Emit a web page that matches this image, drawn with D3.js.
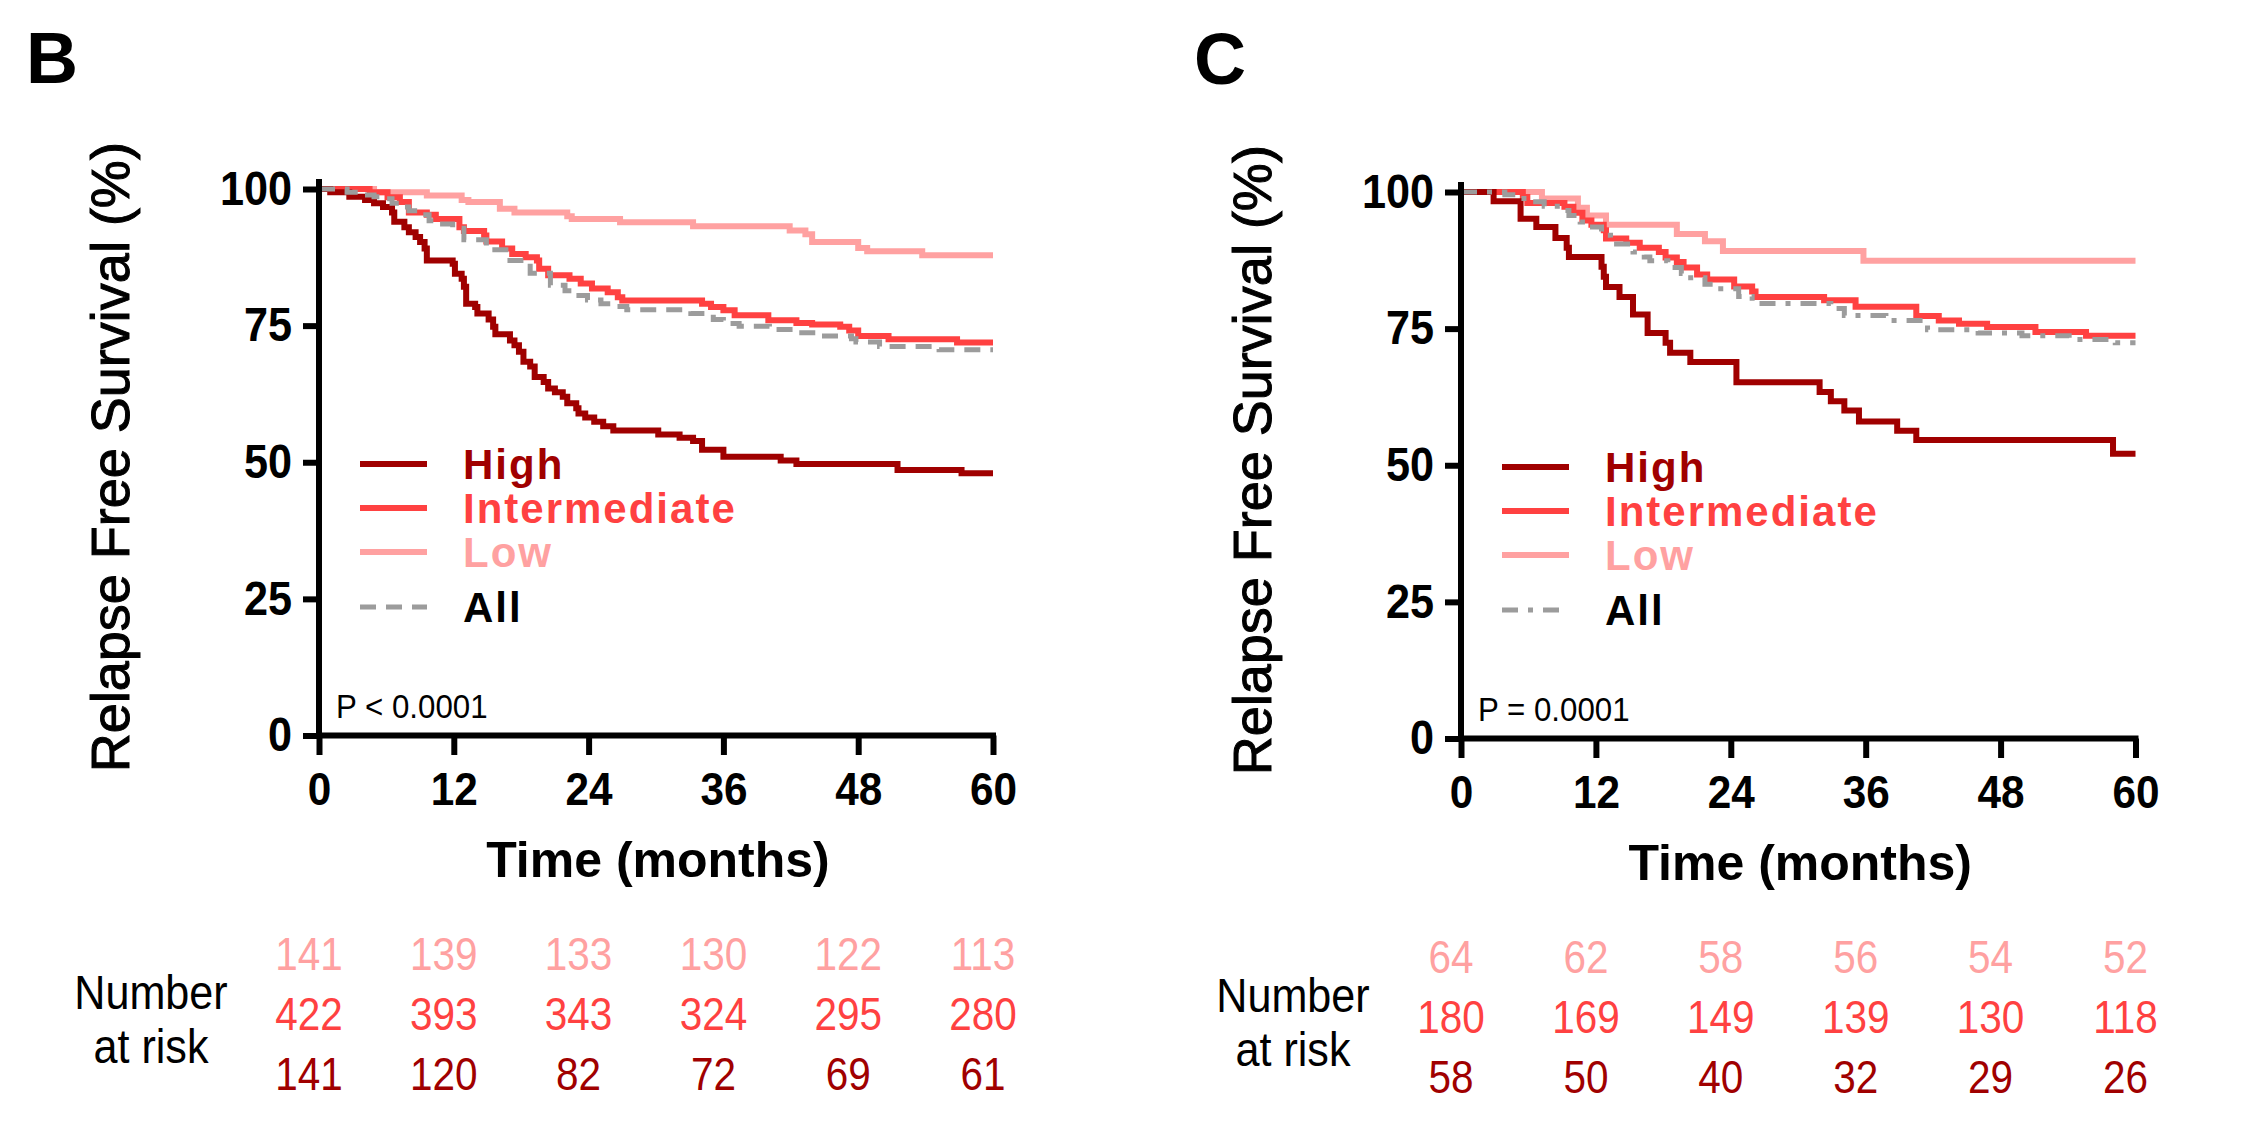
<!DOCTYPE html>
<html>
<head>
<meta charset="utf-8">
<script src="https://cdn.jsdelivr.net/npm/d3@7"></script>
<style>
  html, body { margin: 0; padding: 0; background: #fff; }
  svg { display: block; }
</style>
</head>
<body>
<svg id="chart" width="2242" height="1124"></svg>
<script>
// ---------------- DATA ----------------
const monthTicks = [0, 12, 24, 36, 48, 60];
const survTicks = [0, 25, 50, 75, 100];
const seriesNames = ["High", "Intermediate", "Low", "All"];

// Panel B curves: [month, relapse-free survival %]
const bHigh = [[0,100],[1.0,99.4],[2.7,98.6],[4.1,98.0],[4.9,97.4],[5.7,96.7],[6.5,95.7],[6.7,94.0],[7.6,93.0],[8.0,92.1],[8.6,91.2],[9.0,90.3],[9.4,89.1],[9.6,86.9],[11.9,86.3],[12.1,84.5],[12.7,83.6],[12.9,82.1],[13.1,79.0],[13.9,78.4],[14.1,77.2],[15.1,76.1],[15.5,74.8],[15.7,73.4],[17.0,72.3],[17.4,71.4],[17.8,70.2],[18.2,68.4],[18.8,67.5],[19.2,65.6],[20.0,64.7],[20.4,63.5],[21.0,62.8],[21.7,62.0],[22.1,60.8],[22.9,59.9],[23.1,58.9],[23.7,58.2],[24.5,57.4],[25.3,56.6],[26.2,55.8],[30.2,55.1],[32.1,54.5],[33.3,53.9],[34.1,52.3],[36.0,51.0],[41.1,50.3],[42.5,49.7],[51.5,48.6],[57.2,48.0],[60,48.0]];
const bIntermediate = [[0,100],[4.5,99.4],[6.1,98.5],[7.2,97.6],[8.0,95.7],[9.6,95.3],[10.4,94.5],[12.5,93.0],[12.9,92.3],[14.7,91.5],[14.9,90.4],[16.3,89.1],[17.2,88.1],[18.4,87.5],[19.4,86.9],[19.6,85.4],[20.4,84.2],[22.3,83.6],[23.3,82.7],[24.3,81.8],[25.7,81.1],[26.6,80.2],[27.0,79.6],[34.1,79.0],[34.9,78.4],[36.0,77.8],[37.0,76.9],[40.0,76.0],[42.5,75.5],[43.9,75.2],[46.4,74.8],[47.2,74.1],[48.0,73.1],[50.7,72.5],[56.8,71.9],[60,71.9]];
const bLow = [[0,100],[4.9,99.4],[9.6,98.8],[12.7,98.0],[13.3,97.6],[16.1,96.4],[17.4,95.7],[22.1,95.0],[22.5,94.5],[26.8,93.9],[33.3,93.2],[41.9,92.4],[43.3,91.7],[43.9,90.3],[48.0,89.2],[48.8,88.6],[53.7,87.9],[60,87.9]];
const bAll = [[0,100],[2.5,99.4],[3.7,98.9],[4.9,98.6],[5.5,98.2],[6.5,97.4],[7.2,96.7],[8.0,96.0],[9.2,95.3],[9.8,94.2],[11.0,93.6],[11.9,92.8],[12.9,90.7],[14.9,88.9],[17.0,86.9],[18.8,84.6],[20.6,82.4],[21.9,81.4],[22.9,80.5],[23.9,79.7],[25.1,79.0],[26.4,78.5],[27.4,77.9],[33.1,77.2],[35.1,76.1],[36.0,75.4],[37.4,74.9],[40.1,74.3],[42.7,73.7],[45.0,73.1],[47.4,72.6],[47.8,72.0],[49.9,71.2],[55.2,70.6],[60,70.6]];

// Panel C curves
const cHigh = [[0,100],[2.9,98.3],[5.3,95.1],[6.7,93.6],[8.4,91.6],[9.4,89.8],[9.6,88.1],[12.5,86.3],[12.7,84.5],[12.9,82.6],[14.1,80.8],[15.3,77.6],[16.6,74.2],[18.2,72.4],[18.6,70.6],[20.4,68.9],[24.5,65.2],[31.9,63.4],[32.9,61.7],[34.1,60.0],[35.4,58.0],[38.8,56.3],[40.5,54.6],[58.0,52.1],[60,52.1]];
const cIntermediate = [[0,100],[5.5,99.1],[5.9,98.0],[9.2,97.3],[10.0,96.2],[10.8,94.8],[11.6,94.0],[12.7,93.0],[12.9,91.5],[14.7,90.7],[15.9,89.8],[17.6,89.0],[18.2,88.0],[19.2,87.2],[19.8,86.2],[21.0,84.9],[21.9,84.0],[24.3,82.7],[25.9,81.8],[26.2,80.8],[32.3,80.2],[35.1,79.0],[40.5,77.3],[42.5,76.5],[44.3,75.9],[46.8,75.3],[51.1,74.4],[55.6,73.7],[60,73.7]];
const cLow = [[0,100],[7.2,98.8],[10.4,97.1],[11.2,95.7],[12.9,94.0],[19.2,92.3],[21.7,91.0],[23.3,89.2],[35.8,87.4],[60,87.4]];
const cAll = [[0,100],[3.9,99.5],[5.3,98.8],[6.1,98.2],[7.4,97.4],[8.8,96.6],[9.6,95.7],[10.6,94.5],[11.2,93.6],[12.5,92.1],[13.3,90.5],[15.3,89.0],[16.3,88.1],[16.8,87.4],[18.4,86.2],[19.6,85.1],[20.2,84.3],[21.7,83.1],[22.7,82.3],[24.7,80.9],[25.9,79.6],[32.9,78.7],[34.1,77.4],[37.8,76.5],[41.5,74.8],[46.0,74.2],[49.9,73.7],[54.1,73.0],[58.2,72.4],[60,72.4]];

// Number at risk
const bRiskLow = [141, 139, 133, 130, 122, 113];
const bRiskIntermediate = [422, 393, 343, 324, 295, 280];
const bRiskHigh = [141, 120, 82, 72, 69, 61];
const cRiskLow = [64, 62, 58, 56, 54, 52];
const cRiskIntermediate = [180, 169, 149, 139, 130, 118];
const cRiskHigh = [58, 50, 40, 32, 29, 26];

const panelLetters = ["B", "C"];
const pLabels = ["P < 0.0001", "P = 0.0001"];
const xTitle = "Time (months)";
const yTitle = "Relapse Free Survival (%)";
const riskLabel = ["Number", "at risk"];

// ---------------- STYLE ----------------
const colors = { High: "#a00000", Intermediate: "#ff4141", Low: "#ffa1a1", All: "#9c9c9c" };
const SANS = "'Liberation Sans', Arial, sans-serif";
const SQ = 0.88; // horizontal condensing for narrow-looking labels

const svg = d3.select("#chart");

function drawPanel(cfg) {
  const x = d3.scaleLinear().domain([0, 60]).range([cfg.x0, cfg.x1]);
  const y = d3.scaleLinear().domain([0, 100]).range([cfg.y0, cfg.y1]);
  const g = svg.append("g");

  // Panel letter
  g.append("text").attr("x", cfg.letterX).attr("y", cfg.letterY)
    .attr("font-family", SANS).attr("font-weight", "bold").attr("font-size", 72)
    .attr("fill", "#000").text(cfg.letter);

  // Curves
  const line = d3.line().x(d => x(d[0])).y(d => y(d[1])).curve(d3.curveStepAfter);
  const order = ["Low", "Intermediate", "High", "All"];
  order.forEach(name => {
    g.append("path").datum(cfg.curves[name])
      .attr("d", line).attr("fill", "none")
      .attr("stroke", colors[name]).attr("stroke-width", name === "All" ? 5 : 6)
      .attr("stroke-dasharray", name === "All" ? cfg.dash : null);
  });

  // Y axis
  const yAxis = d3.axisLeft(y).tickValues(survTicks).tickSize(16).tickPadding(11).tickSizeOuter(0);
  const ya = g.append("g").attr("transform", `translate(${cfg.x0},0)`).call(yAxis);
  ya.select(".domain").remove();
  ya.selectAll(".tick line").attr("stroke", "#000").attr("stroke-width", 6);
  ya.selectAll(".tick text").attr("font-family", SANS).attr("font-weight", "bold")
    .attr("font-size", 48).attr("fill", "#000")
    .attr("x", -27 / 0.9).attr("transform", "scale(0.9,1)");

  // X axis
  const xAxis = d3.axisBottom(x).tickValues(monthTicks).tickSize(19.5).tickPadding(17).tickSizeOuter(0);
  const xa = g.append("g").attr("transform", `translate(0,${cfg.y0})`).call(xAxis);
  xa.select(".domain").remove();
  xa.selectAll(".tick line").attr("stroke", "#000").attr("stroke-width", 6);
  xa.selectAll(".tick text").attr("font-family", SANS).attr("font-weight", "bold")
    .attr("font-size", 47).attr("fill", "#000").attr("transform", "scale(0.9,1)");

  // Axis lines
  g.append("line").attr("x1", x(0)).attr("x2", x(0)).attr("y1", y(100) - 10).attr("y2", y(0) + 3)
    .attr("stroke", "#000").attr("stroke-width", 6);
  g.append("line").attr("x1", x(0) - 3).attr("x2", x(60) + 3).attr("y1", y(0)).attr("y2", y(0))
    .attr("stroke", "#000").attr("stroke-width", 6);

  // Axis titles
  g.append("text").attr("x", (cfg.x0 + cfg.x1) / 2 + 2).attr("y", cfg.y0 + 141.5)
    .attr("text-anchor", "middle").attr("font-family", SANS).attr("font-weight", "bold")
    .attr("font-size", 50).attr("fill", "#000").text(xTitle);
  const ymid = (cfg.y0 + cfg.y1) / 2 - 5;
  g.append("text").attr("transform", `translate(${cfg.x0 - 190},${ymid}) rotate(-90)`)
    .attr("text-anchor", "middle").attr("font-family", SANS)
    .attr("font-size", 54).attr("fill", "#000")
    .attr("stroke", "#000").attr("stroke-width", 1).text(yTitle);

  // Legend
  const legOff = [275, 319, 363, 418];
  seriesNames.forEach((name, i) => {
    const ly = cfg.y1 + legOff[i];
    g.append("line").attr("x1", cfg.x0 + 41).attr("x2", cfg.x0 + 108).attr("y1", ly).attr("y2", ly)
      .attr("stroke", colors[name]).attr("stroke-width", name === "All" ? 5 : 6)
      .attr("stroke-dasharray", name === "All" ? cfg.legendDash : null);
    g.append("text").attr("x", cfg.x0 + 144).attr("y", ly).attr("dy", "0.36em")
      .attr("font-family", SANS).attr("font-weight", "bold").attr("font-size", 42)
      .attr("letter-spacing", 2)
      .attr("fill", name === "All" ? "#000" : colors[name]).text(name);
  });

  // P value
  g.append("text").attr("x", (cfg.x0 + 17) / 0.92).attr("y", cfg.y0 - 17)
    .attr("transform", "scale(0.92,1)")
    .attr("font-family", SANS).attr("font-size", 34).attr("fill", "#000").text(cfg.p);

  // Number at risk
  const rows = [["Low", cfg.risk.Low, 234.5], ["Intermediate", cfg.risk.Intermediate, 294.5], ["High", cfg.risk.High, 354.5]];
  rows.forEach(([name, vals, off]) => {
    g.append("g").attr("transform", `scale(${SQ},1)`).selectAll("text").data(vals).join("text")
      .attr("x", (d, i) => (x(monthTicks[i]) - 10) / SQ).attr("y", cfg.y0 + off)
      .attr("text-anchor", "middle").attr("font-family", SANS).attr("font-size", 46)
      .attr("fill", colors[name]).text(d => d);
  });
  const rl = g.append("g").attr("transform", `scale(${SQ},1)`);
  riskLabel.forEach((t, i) => {
    rl.append("text").attr("x", (cfg.x0 - 168) / SQ).attr("y", cfg.y0 + 273.5 + i * 54)
      .attr("text-anchor", "middle").attr("font-family", SANS).attr("font-size", 49)
      .attr("fill", "#000").text(t);
  });
}

drawPanel({
  letter: panelLetters[0], letterX: 26, letterY: 83,
  x0: 319, x1: 993, y0: 735.5, y1: 189,
  curves: { High: bHigh, Intermediate: bIntermediate, Low: bLow, All: bAll },
  dash: "16,10", legendDash: "16,10",
  p: pLabels[0],
  risk: { Low: bRiskLow, Intermediate: bRiskIntermediate, High: bRiskHigh }
});
drawPanel({
  letter: panelLetters[1], letterX: 1194, letterY: 84,
  x0: 1461, x1: 2135.5, y0: 738.5, y1: 192,
  curves: { High: cHigh, Intermediate: cIntermediate, Low: cLow, All: cAll },
  dash: "16,10,5,10", legendDash: "16,10,5,10",
  p: pLabels[1],
  risk: { Low: cRiskLow, Intermediate: cRiskIntermediate, High: cRiskHigh }
});
</script>
</body>
</html>
